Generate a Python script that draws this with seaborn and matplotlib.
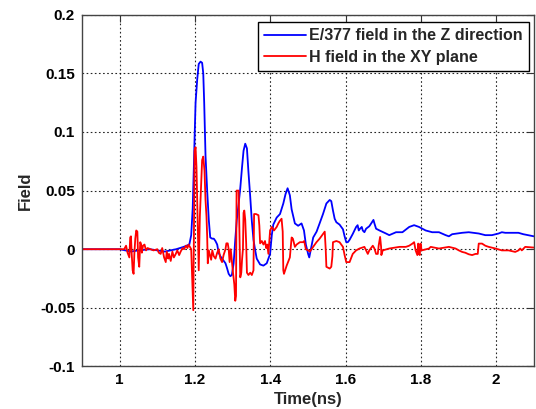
import numpy as np
import pandas as pd
import seaborn as sns
import matplotlib
matplotlib.use("Agg")
import matplotlib.pyplot as plt

# Time axis (ns) and field samples for the E-field (scaled by 1/377)
e_time = [0.90, 1.00, 1.03, 1.05, 1.08, 1.12, 1.15, 1.17, 1.185, 1.190,
          1.194, 1.197, 1.199, 1.2016, 1.206, 1.210, 1.2148, 1.219, 1.222, 1.2245,
          1.228, 1.2324, 1.2367, 1.2405, 1.2456, 1.25, 1.2544, 1.259, 1.263, 1.2675,
          1.272, 1.281, 1.285, 1.2895, 1.294, 1.298, 1.3027, 1.307, 1.311, 1.316,
          1.3203, 1.325, 1.329, 1.3335, 1.338, 1.342, 1.3467, 1.351, 1.3554, 1.36,
          1.364, 1.373, 1.3818, 1.3906, 1.3995, 1.404, 1.408, 1.417, 1.4258, 1.4346,
          1.4405, 1.446, 1.452, 1.4567, 1.4654, 1.474, 1.483, 1.4895, 1.4945, 1.5005,
          1.5035, 1.514, 1.523, 1.531, 1.540, 1.549, 1.5578, 1.562, 1.5665, 1.571,
          1.5755, 1.584, 1.593, 1.5974, 1.6018, 1.606, 1.6106, 1.619, 1.628, 1.632,
          1.635, 1.6385, 1.643, 1.6456, 1.650, 1.6545, 1.663, 1.668, 1.674, 1.6766,
          1.681, 1.690, 1.7073, 1.716, 1.734, 1.751, 1.769, 1.782, 1.795, 1.8126,
          1.830, 1.848, 1.8657, 1.8744, 1.883, 1.9095, 1.927, 1.9536, 1.971, 1.9887,
          2.0063, 2.015, 2.024, 2.059, 2.072, 2.10]
e_field = [0.0, 0.0, -0.002, -0.001, 0.0, -0.002, 0.0, 0.002, 0.004, 0.012,
           0.035, 0.07, 0.095, 0.125, 0.145, 0.158, 0.160, 0.159, 0.150, 0.125,
           0.08, 0.05, 0.025, 0.01, 0.009, 0.009, 0.007, 0.004, -0.003, -0.006,
           -0.008, -0.012, -0.016, -0.021, -0.023, -0.022, -0.012, 0.008, 0.025, 0.039,
           0.052, 0.07, 0.084, 0.09, 0.086, 0.066, 0.045, 0.024, 0.008, -0.001,
           -0.008, -0.013, -0.014, -0.012, -0.004, 0.012, 0.021, 0.027, 0.03, 0.039,
           0.047, 0.052, 0.046, 0.034, 0.022, 0.02, 0.022, 0.016, 0.004, -0.004,
           -0.007, 0.01, 0.015, 0.022, 0.03, 0.039, 0.042, 0.041, 0.033, 0.026,
           0.023, 0.021, 0.017, 0.011, 0.006, 0.006, 0.008, 0.013, 0.019, 0.0205,
           0.016, 0.0175, 0.019, 0.016, 0.0145, 0.0175, 0.0196, 0.022, 0.025, 0.022,
           0.0175, 0.016, 0.0134, 0.012, 0.0145, 0.0145, 0.019, 0.0205, 0.019, 0.016,
           0.0145, 0.0145, 0.012, 0.011, 0.0128, 0.014, 0.0145, 0.0134, 0.012, 0.012,
           0.0134, 0.0145, 0.014, 0.014, 0.0128, 0.011]

# Time axis (ns) and field samples for the H-field in the XY plane
h_time = [0.90, 1.012, 1.017, 1.021, 1.0257, 1.028, 1.030, 1.032, 1.0345, 1.037,
          1.039, 1.0415, 1.044, 1.047, 1.049, 1.052, 1.0547, 1.057, 1.059, 1.062,
          1.066, 1.070, 1.074, 1.082, 1.090, 1.100, 1.104, 1.109, 1.113, 1.118,
          1.1224, 1.125, 1.129, 1.131, 1.1356, 1.140, 1.144, 1.149, 1.153, 1.158,
          1.162, 1.167, 1.171, 1.176, 1.180, 1.183, 1.1866, 1.190, 1.193, 1.1955,
          1.197, 1.199, 1.2016, 1.204, 1.206, 1.208, 1.210, 1.213, 1.2166, 1.219,
          1.222, 1.2253, 1.228, 1.2306, 1.2324, 1.234, 1.2367, 1.239, 1.243, 1.246,
          1.250, 1.2545, 1.259, 1.263, 1.2675, 1.272, 1.276, 1.281, 1.2834, 1.287,
          1.2895, 1.292, 1.295, 1.298, 1.301, 1.3045, 1.307, 1.309, 1.3105, 1.316,
          1.3177, 1.3203, 1.323, 1.325, 1.3274, 1.329, 1.331, 1.3335, 1.336, 1.338,
          1.342, 1.3467, 1.351, 1.3554, 1.357, 1.362, 1.3686, 1.371, 1.373, 1.3775,
          1.3818, 1.386, 1.389, 1.392, 1.395, 1.3976, 1.3995, 1.404, 1.410, 1.417,
          1.4214, 1.425, 1.430, 1.433, 1.4346, 1.4364, 1.4435, 1.452, 1.4567, 1.460,
          1.4654, 1.470, 1.4786, 1.4873, 1.490, 1.4945, 1.5005, 1.505, 1.5137, 1.5227,
          1.531, 1.540, 1.5446, 1.5472, 1.549, 1.5578, 1.562, 1.565, 1.5665, 1.5755,
          1.584, 1.593, 1.5974, 1.6018, 1.6106, 1.619, 1.628, 1.637, 1.650, 1.6545,
          1.659, 1.663, 1.6723, 1.6766, 1.681, 1.6855, 1.688, 1.6917, 1.6943, 1.695,
          1.6987, 1.716, 1.743, 1.760, 1.769, 1.7776, 1.782, 1.786, 1.7906, 1.793,
          1.795, 1.797, 1.799, 1.802, 1.8216, 1.826, 1.848, 1.8744, 1.892, 1.9007,
          1.9095, 1.918, 1.927, 1.936, 1.945, 1.951, 1.9536, 1.9624, 1.971, 1.980,
          1.998, 2.015, 2.033, 2.042, 2.0505, 2.0593, 2.0637, 2.068, 2.077, 2.10]
h_field = [0.0, 0.0, 0.003, -0.003, -0.007, 0.010, 0.011, -0.004, -0.018, -0.021,
           -0.004, 0.009, 0.016, 0.015, -0.007, -0.015, 0.006, 0.004, -0.003, 0.003,
           0.004, -0.001, 0.001, 0.0, -0.001, 0.0, -0.003, -0.004, 0.001, -0.007,
           -0.011, -0.002, -0.008, -0.004, -0.010, -0.002, -0.007, -0.004, -0.001, -0.005,
           -0.002, 0.001, 0.0, 0.003, 0.001, 0.004, 0.002, 0.0, -0.029, -0.052,
           0.002, 0.084, 0.087, 0.070, 0.042, 0.010, -0.018, 0.028, 0.056, 0.076,
           0.079, 0.067, 0.042, 0.028, 0.011, -0.012, -0.001, -0.004, -0.009, -0.001,
           -0.006, -0.008, -0.003, 0.0, -0.008, -0.011, -0.005, 0.0, 0.005, 0.005,
           0.0, -0.011, 0.0, -0.010, -0.020, -0.030, -0.044, -0.040, 0.050, 0.050,
           0.020, -0.024, -0.020, -0.009, 0.0, 0.031, 0.033, 0.025, 0.005, -0.020,
           -0.022, -0.020, -0.022, -0.018, 0.030, 0.030, 0.029, 0.020, 0.005, 0.007,
           0.004, 0.007, 0.001, 0.004, -0.004, 0.007, 0.016, 0.019, 0.016, 0.019,
           0.022, 0.024, 0.026, 0.015, -0.018, -0.021, -0.014, -0.007, 0.010, 0.009,
           0.002, 0.004, 0.006, 0.006, 0.007, 0.0, -0.001, -0.002, 0.002, 0.006,
           0.009, 0.013, 0.015, 0.0, -0.015, -0.0165, -0.015, -0.006, 0.006, 0.007,
           0.006, 0.002, -0.005, -0.011, -0.011, -0.004, -0.001, 0.0006, 0.002, -0.001,
           -0.004, -0.001, 0.003, 0.0006, -0.004, -0.004, 0.0034, 0.0105, 0.002, -0.005,
           -0.001, 0.0006, 0.002, 0.002, 0.003, 0.0048, 0.006, -0.001, -0.005, 0.0048,
           -0.004, -0.005, 0.0048, -0.001, 0.0006, 0.002, 0.0006, 0.002, 0.0006, -0.001,
           -0.0023, -0.003, -0.0043, -0.005, -0.004, -0.004, 0.0048, 0.0048, 0.003, 0.002,
           0.0006, -0.001, -0.001, -0.0017, -0.0023, -0.001, 0.0006, -0.001, 0.002, 0.0014]

series_labels = ["E/377 field in the Z direction", "H field in the XY plane"]
x_ticks = [1.0, 1.2, 1.4, 1.6, 1.8, 2.0]
x_tick_labels = ["1", "1.2", "1.4", "1.6", "1.8", "2"]
y_ticks = [-0.1, -0.05, 0.0, 0.05, 0.1, 0.15, 0.2]
y_tick_labels = ["-0.1", "-0.05", "0", "0.05", "0.1", "0.15", "0.2"]

sns.set_style("white")
plt.rcParams["font.family"] = ["Liberation Sans", "DejaVu Sans"]
plt.rcParams["font.weight"] = "bold"

e_df = pd.DataFrame({"Time": e_time, "Field": e_field})
h_df = pd.DataFrame({"Time": h_time, "Field": h_field})

fig = plt.figure(figsize=(5.36, 4.09), dpi=100)
ax = fig.add_axes([0.153, 0.104, 0.843, 0.860])

sns.lineplot(data=e_df, x="Time", y="Field", ax=ax, color="#0000ff",
             linewidth=1.3, estimator=None, sort=False, label=series_labels[0])
sns.lineplot(data=h_df, x="Time", y="Field", ax=ax, color="#ff0000",
             linewidth=1.3, estimator=None, sort=False, label=series_labels[1])

ax.set_xlim(0.9, 2.1)
ax.set_ylim(-0.1, 0.2)
ax.set_xticks(x_ticks)
ax.set_xticklabels(x_tick_labels, fontsize=11, fontweight="bold")
ax.set_yticks(y_ticks)
ax.set_yticklabels(y_tick_labels, fontsize=11, fontweight="bold")

ax.grid(True, color="black", linestyle=(0, (1.5, 2.2)), linewidth=0.8, alpha=0.85)
ax.tick_params(direction="in", length=5, width=0.8, top=True, right=True,
               colors="#333333", labelcolor="black", pad=5)
for spine in ax.spines.values():
    spine.set_color("#444444")
    spine.set_linewidth(1.0)

ax.set_xlabel("Time(ns)", fontsize=12, fontweight="bold", labelpad=3)
ax.set_ylabel("Field", fontsize=12, fontweight="bold", labelpad=5)

leg = ax.legend(loc="upper right", bbox_to_anchor=(0.989, 0.979), borderaxespad=0,
                frameon=True, fancybox=False, edgecolor="black", framealpha=1,
                prop={"size": 11.5, "weight": "bold"}, handlelength=2.6,
                handletextpad=0.2, borderpad=0.4, labelspacing=0.4)
leg.get_frame().set_linewidth(1.0)

fig.savefig("out.png", dpi=100)
